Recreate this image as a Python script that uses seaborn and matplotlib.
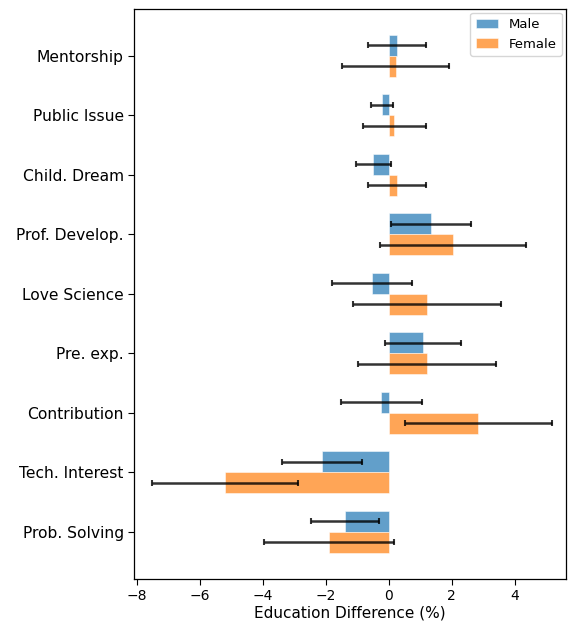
import numpy as np
import pandas as pd
import matplotlib
matplotlib.use('Agg')
import matplotlib.pyplot as plt
import seaborn as sns

categories = ['Mentorship', 'Public Issue', 'Child. Dream', 'Prof. Develop.', 'Love Science',
              'Pre. exp.', 'Contribution', 'Tech. Interest', 'Prob. Solving']
male_vals = [0.25, -0.22, -0.49, 1.33, -0.53, 1.08, -0.24, -2.12, -1.41]
male_err = [0.92, 0.36, 0.57, 1.27, 1.27, 1.21, 1.29, 1.27, 1.08]
female_vals = [0.21, 0.17, 0.25, 2.04, 1.21, 1.21, 2.84, -5.20, -1.90]
female_err = [1.69, 1.00, 0.92, 2.33, 2.35, 2.18, 2.33, 2.32, 2.07]

df = pd.DataFrame({
    'category': categories * 2,
    'value': male_vals + female_vals,
    'err': male_err + female_err,
    'gender': ['Male'] * len(categories) + ['Female'] * len(categories),
})

sns.set_style('white')
plt.rcParams['font.family'] = ['DejaVu Sans']
plt.rcParams['text.color'] = 'black'
plt.rcParams['xtick.color'] = 'black'
plt.rcParams['ytick.color'] = 'black'
plt.rcParams['axes.labelcolor'] = 'black'

fig = plt.figure(figsize=(5.68, 6.21), dpi=100)
ax = fig.add_axes([0.236, 0.068, 0.76, 0.918])

sns.barplot(data=df, y='category', x='value', hue='gender', order=categories,
            hue_order=['Male', 'Female'], palette=['#1f77b4', '#ff7f0e'],
            saturation=1, orient='h', width=0.7, errorbar=None, alpha=0.7,
            edgecolor='white', linewidth=0.5, ax=ax)

# error bars at the centre of each drawn bar
for patch, (_, row) in zip(ax.patches, df.iterrows()):
    yc = patch.get_y() + patch.get_height() / 2
    ax.errorbar(row['value'], yc, xerr=row['err'], fmt='none', ecolor='black',
                alpha=0.8, capsize=2, elinewidth=1.8, capthick=1.5)

ax.set_ylim(8.79, -0.79)
ax.set_xlim(-8.1, 5.62)
ax.set_xlabel('Education Difference (%)', fontsize=11, labelpad=2)
ax.set_ylabel('')
ax.tick_params(axis='y', labelsize=11.2, left=True, length=4)
ax.tick_params(axis='x', labelsize=10, bottom=True, length=4)
for s in ax.spines.values():
    s.set_color('black')
    s.set_linewidth(0.9)
ax.legend(loc='upper right', fontsize=9.5, framealpha=0.8, handlelength=1.7,
          borderaxespad=0.3)

fig.savefig('out.png', dpi=100)
